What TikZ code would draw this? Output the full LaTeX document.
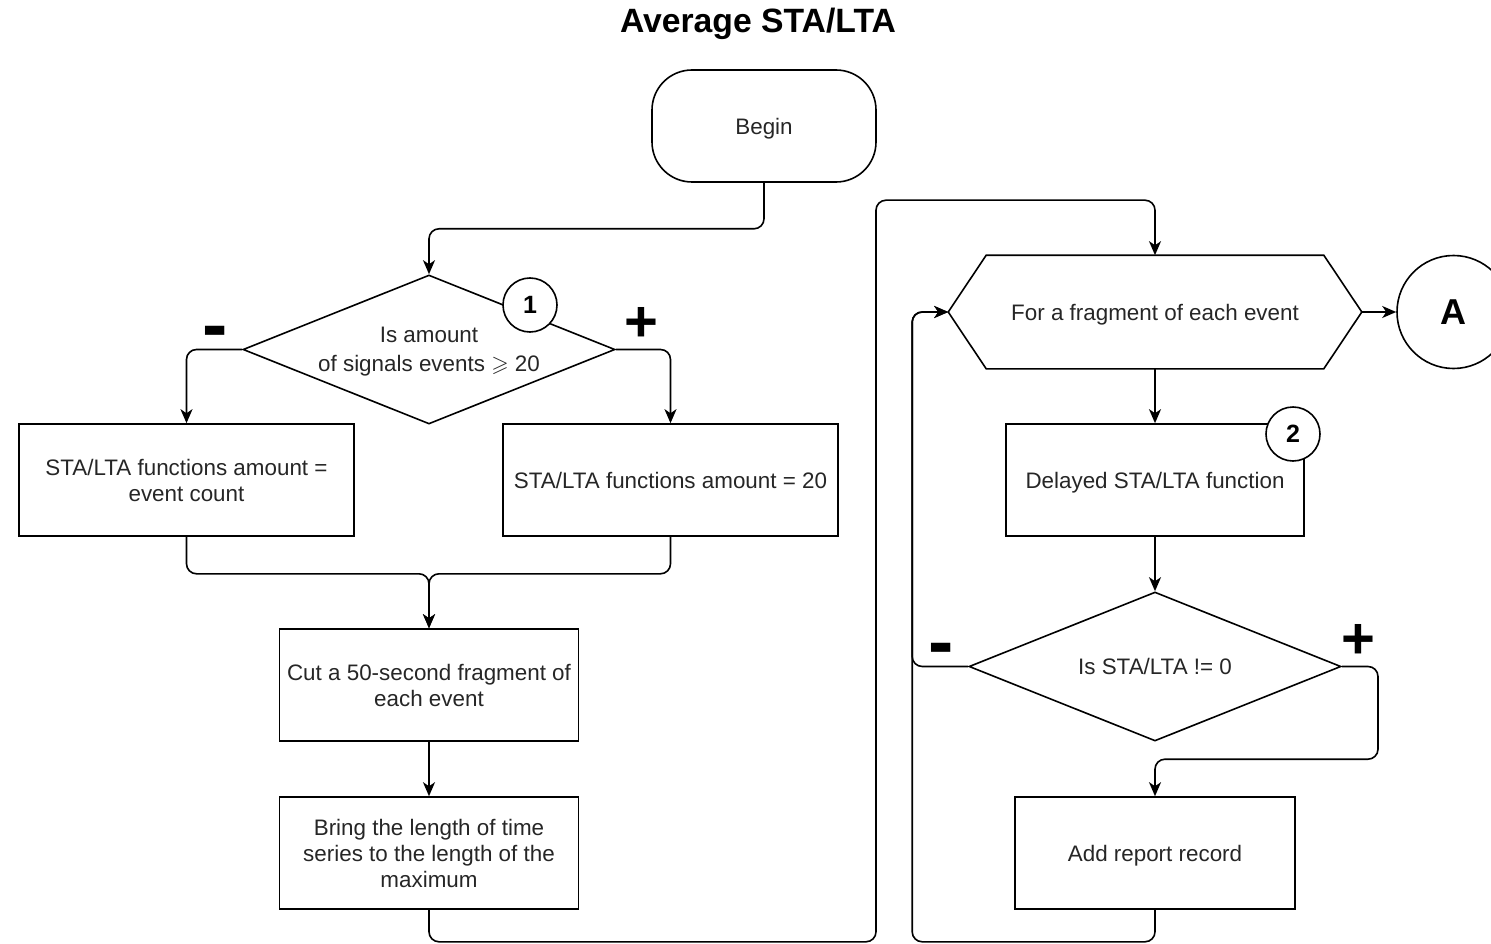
\documentclass[tikz,border=0pt]{standalone}
\usepackage{fontspec}
\setmainfont{Liberation Sans}
\usepackage{amssymb}
\usetikzlibrary{arrows.meta,shapes.geometric,calc}
\begin{document}
\begin{tikzpicture}[x=1pt,y=-1pt,
  line width=1.6pt,
  txt/.style={font=\fontsize{22.4}{26}\selectfont,text=black!85},
  box/.style={draw,rectangle,minimum width=#1,minimum height=112pt,align=center,inner sep=2pt,txt,text depth=0pt},
  beginbox/.style={draw,rectangle,rounded corners=40pt,minimum width=224pt,minimum height=112pt,txt,text depth=0pt},
  dia/.style={draw,diamond,aspect=2.5,minimum width=372pt,minimum height=149pt,inner sep=0pt,align=center,txt,font=\fontsize{22.4}{29}\selectfont,text depth=0pt},
  marker/.style={draw,circle,fill=white,minimum size=54pt,inner sep=0pt,font=\bfseries\fontsize{25}{30}\selectfont},
  plussign/.style={inner sep=0pt,font=\bfseries\fontsize{58}{60}\selectfont},
  minussign/.style={inner sep=0pt,font=\bfseries\fontsize{76}{76}\selectfont},
  arr/.style={-{Stealth[length=14pt,width=12pt,inset=4pt]}},
  rc/.style={rounded corners=10pt},
]
\useasboundingbox (0,0) rectangle (1491,944);

\node[font=\bfseries\fontsize{33.7}{38}\selectfont] (title) at (758,24) {Average STA/LTA};

\node[beginbox] (begin) at (764,126) {Begin};
\node[dia] (d1) at (429,349.5) {Is amount\\of signals events $\geqslant$ 20};
\node[marker] (m1) at (530,305) {1};
\node[minussign] (n1) at (215,338) {-};
\node[plussign] (p1) at (641,324) {+};

\node[box=335pt] (L) at (186.5,480) {STA/LTA functions amount =\\event count};
\node[box=335pt] (R) at (670.5,480) {STA/LTA functions amount = 20};
\node[box=299pt] (cut) at (429,685) {Cut a 50-second fragment of\\each event};
\node[box=299pt] (bring) at (429,853) {Bring the length of time\\series to the length of the\\maximum};

\node[minimum width=412pt,minimum height=112pt,txt,text depth=0pt] (hex) at (1155,312) {For a fragment of each event};
\draw (hex.west) -- ([xshift=38pt]hex.north west) -- ([xshift=-38pt]hex.north east) -- (hex.east)
  -- ([xshift=-38pt]hex.south east) -- ([xshift=38pt]hex.south west) -- cycle;
\node[draw,circle,minimum size=113pt,inner sep=0pt,font=\bfseries\fontsize{36}{40}\selectfont] (A) at (1453.5,312) {A};

\node[box=298pt] (del) at (1155,480) {Delayed STA/LTA function};
\node[marker] (m2) at (1293,434) {2};
\node[dia] (d2) at (1155,666.5) {Is STA/LTA != 0};
\node[minussign] (n2) at (941,655) {-};
\node[plussign] (p2) at (1358,641) {+};
\node[box=280pt] (add) at (1155,853) {Add report record};

% connectors
\draw[arr] (begin.south) [rc] -- ++(0,46) -| (d1.north) [sharp corners];
\draw[arr] (d1.west) [rc] -| (L.north) [sharp corners];
\draw[arr] (d1.east) [rc] -| (R.north) [sharp corners];
\draw[arr] (L.south) [rc] -- ++(0,37) -| (cut.north) [sharp corners];
\draw[arr] (R.south) [rc] -- ++(0,37) -| (cut.north) [sharp corners];
\draw[arr] (cut.south) -- (bring.north);
\draw[arr] (bring.south) [rc] -- ++(0,32) -- ++(447,0) |- ($(hex.north)+(0,-55)$) -- (hex.north) [sharp corners];
\draw[arr] (hex.east) -- (A.west);
\draw[arr] (hex.south) -- (del.north);
\draw[arr] (del.south) -- (d2.north);
\draw[arr] (d2.west) [rc] -- ++(-56,0) |- (hex.west) [sharp corners];
\draw[arr] (d2.east) [rc] -| ($(add.north)+(223,-37)$) -| (add.north) [sharp corners];
\draw[arr] (add.south) [rc] -- ++(0,32) -| ($(hex.west)+(-36,0)$) -- (hex.west) [sharp corners];
\end{tikzpicture}
\end{document}
